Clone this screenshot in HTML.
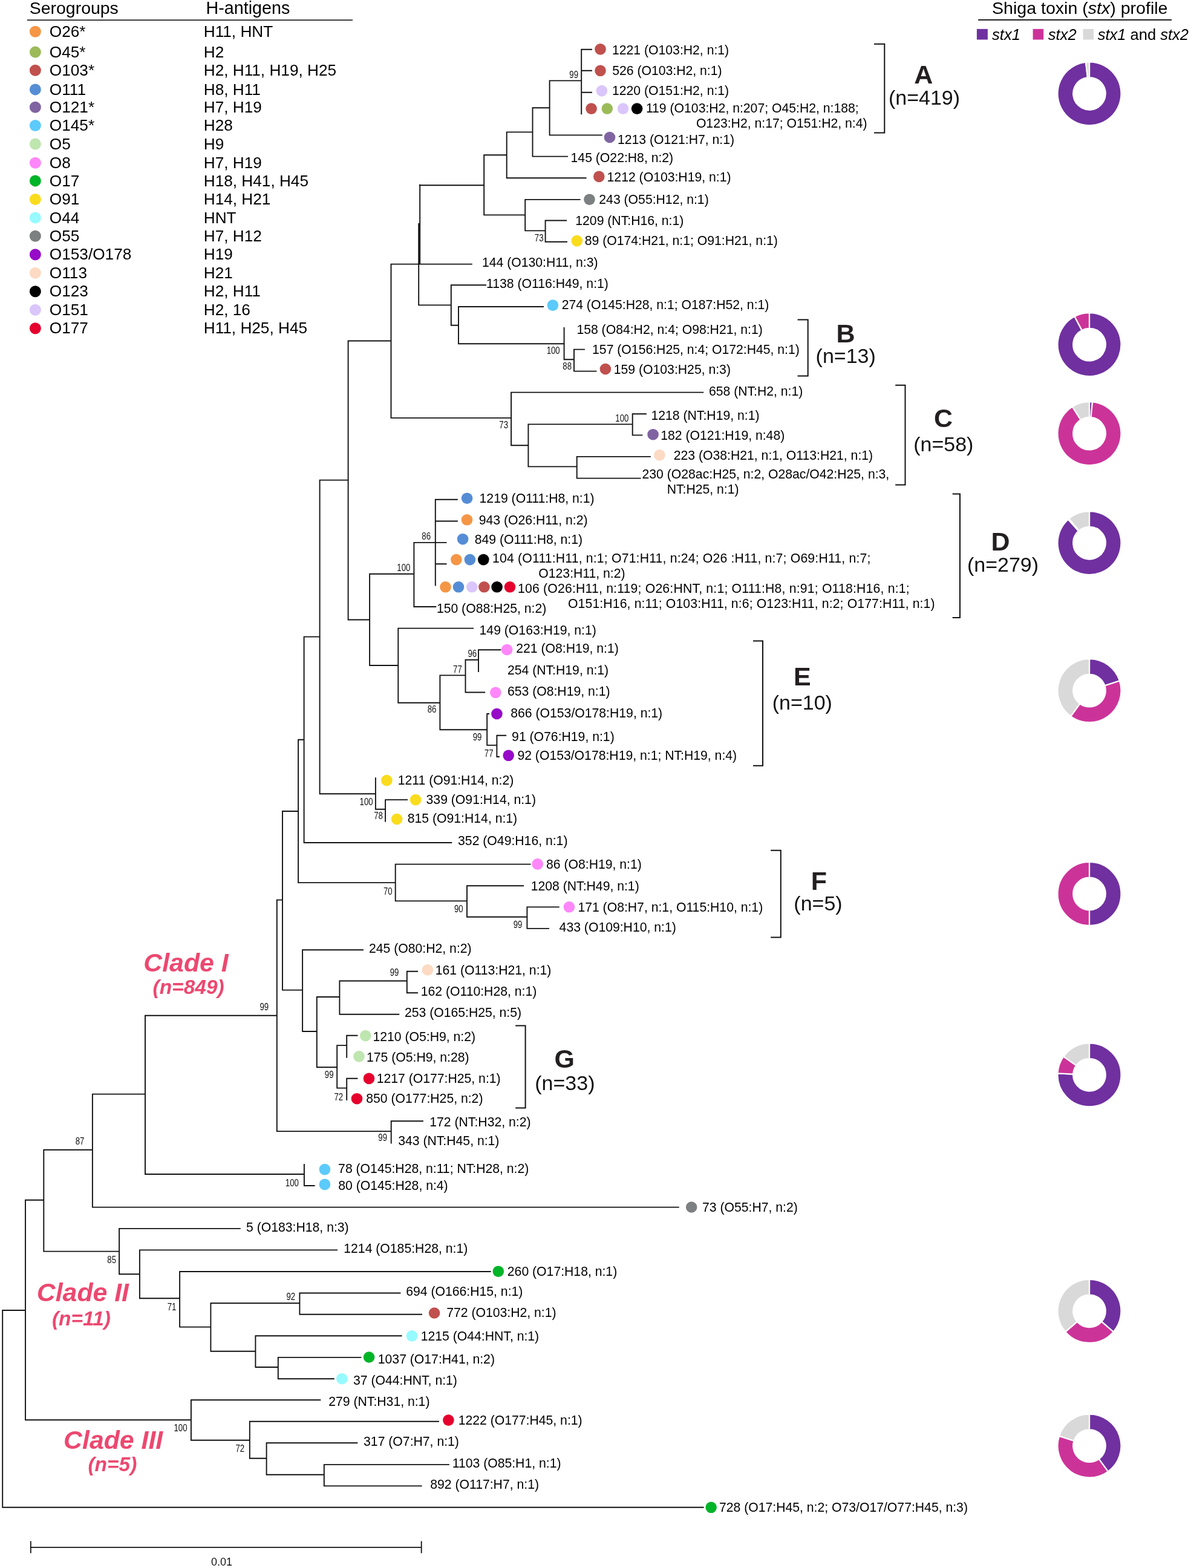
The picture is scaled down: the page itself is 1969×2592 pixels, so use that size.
<!DOCTYPE html>
<html><head><meta charset="utf-8"><title>Phylogenetic tree</title>
<style>html,body{margin:0;padding:0;background:#fff;}body{width:1969px;height:2592px;overflow:hidden;}svg{display:block;}</style>
</head><body>
<svg width="1969" height="2592" viewBox="0 0 1969 2592">
<rect width="100%" height="100%" fill="#fff"/>
<g stroke="#111" stroke-width="1.9" stroke-linecap="square" fill="none">
<path d="M961.2 81.6V188.4M961.2 81.8H978M961.2 116.8H978M961.2 152.7H978M908.6 133.4H961.2M908.6 133.4V223.2M908.6 223.4H994.8M880.5 178.2H908.6M880.5 178.2V258.6M880.5 258.6H938M837.7 218.4H880.5M837.7 218.4V294.3M837.7 294.3H968.6M800.2 256.25H837.7M800.2 256.25V355.4M693.75 306.25H800.2M800.2 355.4H868.2M868.2 329.9V381.4M868.2 329.9H958.6M868.2 381.4H901.6M901.6 364.5V399.8M901.6 364.5H936.2M901.6 399.8H937M694.2 305.8V436.6M692.2 370V504.4M692.2 370H694.2M646.5 436.6H779.8M692.2 504.4H745.8M745.8 471.3V537.8M745.8 471.3H803M745.8 537.8H758M758 507V568.2M758 507H898M758 568.2H932.6M932.6 542V594.3M932.6 594.3H949M949 577.6V613.6M949 577.6H966M949 613.6H985.5M646.5 436.6V690.9M575.6 563.5H646.5M646.5 690.9H845.1M845.1 648.6V736.3M845.1 648.6H1162.3M845.1 736.3H873.4M873.4 701.4V771.4M873.4 701.4H1045.7M1045.7 684.3V719.4M1045.7 684.3H1068M1045.7 719.4H1061.4M873.4 771.4H953.7M953.7 754.9V790.6M953.7 754.9H1074.9M953.7 790.6H1058.6M575.6 563.5V1024.5M528.6 793.6H575.6M528.6 793.6V1312.3M502.6 1052.6H528.6M575.6 1024.5H611.1M611.1 948.8V1100M611.1 948.8H684.4M684.4 896.9V1003M684.4 896.9H737.6M719.8 825.7V967.6M719.8 825.7H755.9M719.8 861.5H755.9M719.8 932.3H737.6M684.4 1003H720.3M611.1 1100H658.3M658.3 1038.6V1161.7M658.3 1038.6H782.1M658.3 1161.7H727.4M727.4 1116.4V1206.2M727.4 1116.4H769.5M769.5 1090.7V1144.5M769.5 1090.7H791M791 1074.3V1110M791 1074.3H827.4M769.5 1144.5H801.2M727.4 1206.2H805.2M805.2 1180V1231.9M805.2 1180H808M805.2 1231.9H821.4M821.4 1215.7V1251M821.4 1215.7H836.2M821.4 1251H825M528.6 1312.3H620.9M620.9 1286.3V1337.7M620.9 1337.7H637.1M637.1 1322.1V1357.7M637.1 1322.1H673.1M502.6 1052.6V1393M502.6 1393H746.3M493.1 1222.8H502.6M493.1 1222.8V1459.1M493.1 1459.1H653.7M653.7 1428.6V1489.4M653.7 1428.6H876.6M653.7 1489.4H772M772 1464.3V1515.7M772 1464.3H865.1M772 1515.7H871.4M871.4 1499.4V1534.9M871.4 1499.4H923.8M871.4 1534.9H907.1M467 1341H493.1M467 1341V1636.6M457.8 1487.6H467M457.8 1487.6V1870.1M467 1636.6H500.1M500.1 1570.2V1705M500.1 1570.2H600M500.1 1705H523.8M523.8 1648V1764.2M523.8 1648H561.4M561.4 1621.5V1676.8M561.4 1621.5H672.8M672.8 1605.7V1641.3M672.8 1605.7H690.1M672.8 1641.3H690.1M561.4 1676.8H659.3M523.8 1764.2H557.2M557.2 1728.1V1798.6M557.2 1728.1H573.2M573.2 1711.8V1747.7M573.2 1711.8H590.5M557.2 1798.6H573.2M573.2 1782.8V1818M573.2 1782.8H590.5M457.8 1870.1H646.7M646.7 1853.3V1889.5M646.7 1853.3H699M240 1678.8H457.8M240 1678.8V1941M240 1941H502.9M502.9 1925V1960M502.9 1960H519.6M152.9 1808.6H240M152.9 1808.6V1995.6M152.9 1995.6H1121.8M72.3 1900.8H152.9M72.3 1900.8V2068.6M42 1983.7H72.3M42 1983.7V2347.3M72.3 2068.6H197.1M197.1 2030.9V2106.3M197.1 2030.9H396.8M197.1 2106.3H230.9M230.9 2066.4V2146.3M230.9 2066.4H557.1M230.9 2146.3H297.1M297.1 2102V2193.6M297.1 2102H810.7M297.1 2193.6H348.4M348.4 2154.3V2233.7M348.4 2154.3H495.4M495.4 2137.5V2172.8M495.4 2137.5H661.5M495.4 2172.8H697M348.4 2233.7H422.4M422.4 2208.2V2260M422.4 2208.2H663.6M422.4 2260H459.8M459.8 2243.9V2279.3M459.8 2243.9H596.4M459.8 2279.3H551.8M4.2 2166H42M4.2 2166V2491.8M4.2 2491.8H1162.7M42 2347.3H315.9M315.9 2314.3V2380.7M315.9 2314.3H529.4M315.9 2380.7H412.8M412.8 2349.8V2410.7M412.8 2349.8H725M412.8 2410.7H440.6M440.6 2385.2V2437.7M440.6 2385.2H590.4M440.6 2437.7H535.8M535.8 2421.1V2456.4M535.8 2421.1H741.9M535.8 2456.4H696.7"/>
</g>
<g stroke="#111" stroke-width="2" fill="none">
<path d="M1445 72.8H1462.3V219.4H1445"/>
<path d="M1318.6 528.6H1335.7V621.4H1318.6"/>
<path d="M1480.2 636.8H1496.5V801.6H1480.2"/>
<path d="M1574.7 816.6H1587V1021H1574.7"/>
<path d="M1245 1059.6H1261V1265.7H1245"/>
<path d="M1274.2 1405.8H1290.8V1549.6H1274.2"/>
<path d="M852.2 1695.5H868.6V1831.6H852.2"/>
</g>
<g stroke="#111" stroke-width="1.8" fill="none"><path d="M50.8 2557.9H696.7M50.8 2547.5V2567.5M696.7 2547.5V2567.5"/></g>
<g>
<circle cx="992.5" cy="81.4" r="9.3" fill="#C0504D"/>
<circle cx="992.5" cy="116.8" r="9.3" fill="#C0504D"/>
<circle cx="994.9" cy="150.1" r="9.3" fill="#DAC6FA"/>
<circle cx="977.6" cy="179.6" r="9.3" fill="#C0504D"/>
<circle cx="1003.8" cy="179.6" r="9.3" fill="#9BBB59"/>
<circle cx="1030" cy="179.6" r="9.3" fill="#DAC6FA"/>
<circle cx="1053.1" cy="179.6" r="9.3" fill="#000000"/>
<circle cx="1008" cy="227" r="9.3" fill="#8064A2"/>
<circle cx="990.3" cy="291.9" r="9.3" fill="#C0504D"/>
<circle cx="974.5" cy="329.7" r="9.3" fill="#7D8080"/>
<circle cx="953.8" cy="398.1" r="9.3" fill="#FADC1E"/>
<circle cx="913.9" cy="504.6" r="9.3" fill="#5CCAFB"/>
<circle cx="1000.9" cy="610" r="9.3" fill="#C0504D"/>
<circle cx="1079.6" cy="718.2" r="9.3" fill="#8064A2"/>
<circle cx="1090.4" cy="752.4" r="9.3" fill="#FCDAC3"/>
<circle cx="772.1" cy="823.7" r="9.3" fill="#558DD5"/>
<circle cx="772" cy="859.3" r="9.3" fill="#F59646"/>
<circle cx="765.1" cy="891.2" r="9.3" fill="#558DD5"/>
<circle cx="754.4" cy="925.1" r="9.3" fill="#F59646"/>
<circle cx="776.9" cy="925.1" r="9.3" fill="#558DD5"/>
<circle cx="799.3" cy="925.1" r="9.3" fill="#000000"/>
<circle cx="736.5" cy="970.3" r="9.3" fill="#F59646"/>
<circle cx="758" cy="970.3" r="9.3" fill="#558DD5"/>
<circle cx="780.3" cy="970.3" r="9.3" fill="#DAC6FA"/>
<circle cx="800.4" cy="970.3" r="9.3" fill="#C0504D"/>
<circle cx="821.6" cy="970.3" r="9.3" fill="#000000"/>
<circle cx="843" cy="970.3" r="9.3" fill="#E6002D"/>
<circle cx="838.1" cy="1074" r="9.3" fill="#FF87FA"/>
<circle cx="819.3" cy="1144.8" r="9.3" fill="#FF87FA"/>
<circle cx="821.4" cy="1180" r="9.3" fill="#960AC8"/>
<circle cx="840.7" cy="1248.8" r="9.3" fill="#960AC8"/>
<circle cx="639.4" cy="1290" r="9.3" fill="#FADC1E"/>
<circle cx="687.1" cy="1322.1" r="9.3" fill="#FADC1E"/>
<circle cx="656.1" cy="1354" r="9.3" fill="#FADC1E"/>
<circle cx="888.7" cy="1428.4" r="9.3" fill="#FF87FA"/>
<circle cx="940.9" cy="1499.3" r="9.3" fill="#FF87FA"/>
<circle cx="707" cy="1603.3" r="9.3" fill="#FCDAC3"/>
<circle cx="604.3" cy="1712.1" r="9.3" fill="#BEE6AF"/>
<circle cx="593.5" cy="1746.4" r="9.3" fill="#BEE6AF"/>
<circle cx="610" cy="1782.9" r="9.3" fill="#E6002D"/>
<circle cx="590" cy="1816.2" r="9.3" fill="#E6002D"/>
<circle cx="536.9" cy="1933.1" r="9.3" fill="#5CCAFB"/>
<circle cx="536.9" cy="1957.9" r="9.3" fill="#5CCAFB"/>
<circle cx="1143.2" cy="1995.5" r="9.3" fill="#7D8080"/>
<circle cx="823.8" cy="2101.7" r="9.3" fill="#00B428"/>
<circle cx="718.1" cy="2170.5" r="9.3" fill="#C0504D"/>
<circle cx="681" cy="2208.3" r="9.3" fill="#96FAFF"/>
<circle cx="610.1" cy="2243.5" r="9.3" fill="#00B428"/>
<circle cx="565.4" cy="2279.2" r="9.3" fill="#96FAFF"/>
<circle cx="741.4" cy="2347.6" r="9.3" fill="#E6002D"/>
<circle cx="1175.7" cy="2491.8" r="9.3" fill="#00B428"/>
</g>
<g font-family="Liberation Sans, Arial, sans-serif" font-size="21.2" fill="#000">
<text x="1011.99" y="90.4">1221 (O103:H2, n:1)</text>
<text x="1012.15" y="124.3">526 (O103:H2, n:1)</text>
<text x="1011.99" y="157.4">1220 (O151:H2, n:1)</text>
<text x="1067.89" y="185.5">119 (O103:H2, n:207; O45:H2, n:188;</text>
<text x="1150.9" y="211">O123:H2, n:17; O151:H2, n:4)</text>
<text x="1020.89" y="238">1213 (O121:H7, n:1)</text>
<text x="943.59" y="268.4">145 (O22:H8, n:2)</text>
<text x="1003.59" y="299.8">1212 (O103:H19, n:1)</text>
<text x="990.34" y="337">243 (O55:H12, n:1)</text>
<text x="951.29" y="372.2">1209 (NT:H16, n:1)</text>
<text x="966.69" y="405.2">89 (O174:H21, n:1; O91:H21, n:1)</text>
<text x="796.99" y="441">144 (O130:H11, n:3)</text>
<text x="804.09" y="476.4">1138 (O116:H49, n:1)</text>
<text x="928.64" y="510.7">274 (O145:H28, n:1; O187:H52, n:1)</text>
<text x="953.39" y="552.1">158 (O84:H2, n:4; O98:H21, n:1)</text>
<text x="979.09" y="585">157 (O156:H25, n:4; O172:H45, n:1)</text>
<text x="1014.79" y="617.9">159 (O103:H25, n:3)</text>
<text x="1171.92" y="654.1">658 (NT:H2, n:1)</text>
<text x="1076.49" y="694.1">1218 (NT:H19, n:1)</text>
<text x="1092.29" y="727">182 (O121:H19, n:48)</text>
<text x="1113.74" y="759.9">223 (O38:H21, n:1, O113:H21, n:1)</text>
<text x="1061.54" y="790.7">230 (O28ac:H25, n:2, O28ac/O42:H25, n:3,</text>
<text x="1102.66" y="815.9">NT:H25, n:1)</text>
<text x="792.59" y="831">1219 (O111:H8, n:1)</text>
<text x="791.8" y="866.6">943 (O26:H11, n:2)</text>
<text x="784.79" y="899.1">849 (O111:H8, n:1)</text>
<text x="814.09" y="930" textLength="625.22" lengthAdjust="spacing">104 (O111:H11, n:1; O71:H11, n:24; O26 :H11, n:7; O69:H11, n:7;</text>
<text x="890.3" y="955.2">O123:H11, n:2)</text>
<text x="856.09" y="979.5" textLength="647.52" lengthAdjust="spacing">106 (O26:H11, n:119; O26:HNT, n:1; O111:H8, n:91; O118:H16, n:1;</text>
<text x="939" y="1005" textLength="606.58" lengthAdjust="spacing">O151:H16, n:11; O103:H11, n:6; O123:H11, n:2; O177:H11, n:1)</text>
<text x="721.89" y="1012.9">150 (O88:H25, n:2)</text>
<text x="792.59" y="1049.3">149 (O163:H19, n:1)</text>
<text x="853.24" y="1079">221 (O8:H19, n:1)</text>
<text x="838.94" y="1114.5">254 (NT:H19, n:1)</text>
<text x="838.92" y="1149.7">653 (O8:H19, n:1)</text>
<text x="844.29" y="1185.7">866 (O153/O178:H19, n:1)</text>
<text x="846.1" y="1225.2">91 (O76:H19, n:1)</text>
<text x="855.4" y="1255.7">92 (O153/O178:H19, n:1; NT:H19, n:4)</text>
<text x="657.69" y="1297.1">1211 (O91:H14, n:2)</text>
<text x="704.59" y="1329.3">339 (O91:H14, n:1)</text>
<text x="673.79" y="1360">815 (O91:H14, n:1)</text>
<text x="757.09" y="1397.1">352 (O49:H16, n:1)</text>
<text x="902.99" y="1435.7">86 (O8:H19, n:1)</text>
<text x="877.69" y="1471.6">1208 (NT:H49, n:1)</text>
<text x="955.39" y="1507">171 (O8:H7, n:1, O115:H10, n:1)</text>
<text x="924.61" y="1539.6">433 (O109:H10, n:1)</text>
<text x="610.04" y="1575.2">245 (O80:H2, n:2)</text>
<text x="719.79" y="1610.5">161 (O113:H21, n:1)</text>
<text x="695.69" y="1645.9">162 (O110:H28, n:1)</text>
<text x="668.94" y="1681.3">253 (O165:H25, n:5)</text>
<text x="616.49" y="1721.4">1210 (O5:H9, n:2)</text>
<text x="605.99" y="1755">175 (O5:H9, n:28)</text>
<text x="622.69" y="1790">1217 (O177:H25, n:1)</text>
<text x="605.29" y="1822.9">850 (O177:H25, n:2)</text>
<text x="710.29" y="1861.9">172 (NT:H32, n:2)</text>
<text x="658.19" y="1893.3">343 (NT:H45, n:1)</text>
<text x="559.12" y="1939.4">78 (O145:H28, n:11; NT:H28, n:2)</text>
<text x="559.29" y="1967.4">80 (O145:H28, n:4)</text>
<text x="1161.02" y="2002.9">73 (O55:H7, n:2)</text>
<text x="407.05" y="2036.2">5 (O183:H18, n:3)</text>
<text x="568.29" y="2071.4">1214 (O185:H28, n:1)</text>
<text x="838.84" y="2109.4">260 (O17:H18, n:1)</text>
<text x="671.22" y="2142.2">694 (O166:H15, n:1)</text>
<text x="738.22" y="2177.3">772 (O103:H2, n:1)</text>
<text x="695.69" y="2215.5">1215 (O44:HNT, n:1)</text>
<text x="624.79" y="2253.6">1037 (O17:H41, n:2)</text>
<text x="583.99" y="2289.3">37 (O44:HNT, n:1)</text>
<text x="543.24" y="2324.3">279 (NT:H31, n:1)</text>
<text x="757.69" y="2354.8">1222 (O177:H45, n:1)</text>
<text x="601.09" y="2390.3">317 (O7:H7, n:1)</text>
<text x="747.69" y="2425.7">1103 (O85:H1, n:1)</text>
<text x="711.19" y="2460.7">892 (O117:H7, n:1)</text>
<text x="1188.92" y="2498.9">728 (O17:H45, n:2; O73/O17/O77:H45, n:3)</text>
</g>
<g font-family="Liberation Sans, Arial, sans-serif" font-size="16.5" fill="#111" text-anchor="end">
<text transform="translate(956 129) scale(0.8 1)">99</text>
<text transform="translate(898.5 398.5) scale(0.8 1)">73</text>
<text transform="translate(925.7 584.8) scale(0.8 1)">100</text>
<text transform="translate(945 611.1) scale(0.8 1)">88</text>
<text transform="translate(840 708) scale(0.8 1)">73</text>
<text transform="translate(1039.4 696.6) scale(0.8 1)">100</text>
<text transform="translate(712 892.2) scale(0.8 1)">86</text>
<text transform="translate(678.4 944) scale(0.8 1)">100</text>
<text transform="translate(788.1 1085.5) scale(0.8 1)">96</text>
<text transform="translate(763.8 1111.7) scale(0.8 1)">77</text>
<text transform="translate(721.4 1177.6) scale(0.8 1)">86</text>
<text transform="translate(796.4 1224.3) scale(0.8 1)">99</text>
<text transform="translate(815.5 1251.4) scale(0.8 1)">77</text>
<text transform="translate(616.6 1330.6) scale(0.8 1)">100</text>
<text transform="translate(632.9 1354.3) scale(0.8 1)">78</text>
<text transform="translate(648.6 1478.6) scale(0.8 1)">70</text>
<text transform="translate(765.7 1508) scale(0.8 1)">90</text>
<text transform="translate(863.4 1533.7) scale(0.8 1)">99</text>
<text transform="translate(659.4 1612.6) scale(0.8 1)">99</text>
<text transform="translate(551.5 1781.5) scale(0.8 1)">99</text>
<text transform="translate(567.2 1818.9) scale(0.8 1)">72</text>
<text transform="translate(640 1886.4) scale(0.8 1)">99</text>
<text transform="translate(444.2 1669.5) scale(0.8 1)">99</text>
<text transform="translate(139.4 1892) scale(0.8 1)">87</text>
<text transform="translate(493.9 1960.7) scale(0.8 1)">100</text>
<text transform="translate(192 2088) scale(0.8 1)">85</text>
<text transform="translate(291.4 2165.7) scale(0.8 1)">71</text>
<text transform="translate(488.2 2148.9) scale(0.8 1)">92</text>
<text transform="translate(309.5 2365.7) scale(0.8 1)">100</text>
<text transform="translate(404.2 2400) scale(0.8 1)">72</text>
</g>
<text x="1526.7" y="138.3" font-family="Liberation Sans, Arial, sans-serif" font-weight="bold" font-size="43" text-anchor="middle" fill="#231F20">A</text>
<text x="1528" y="172.9" font-family="Liberation Sans, Arial, sans-serif" font-size="34" text-anchor="middle" fill="#111">(n=419)</text>
<text x="1398" y="566.1" font-family="Liberation Sans, Arial, sans-serif" font-weight="bold" font-size="43" text-anchor="middle" fill="#231F20">B</text>
<text x="1398.2" y="600" font-family="Liberation Sans, Arial, sans-serif" font-size="34" text-anchor="middle" fill="#111">(n=13)</text>
<text x="1559.5" y="706.4" font-family="Liberation Sans, Arial, sans-serif" font-weight="bold" font-size="43" text-anchor="middle" fill="#231F20">C</text>
<text x="1559.8" y="746.4" font-family="Liberation Sans, Arial, sans-serif" font-size="34" text-anchor="middle" fill="#111">(n=58)</text>
<text x="1654" y="909.6" font-family="Liberation Sans, Arial, sans-serif" font-weight="bold" font-size="43" text-anchor="middle" fill="#231F20">D</text>
<text x="1658" y="944.6" font-family="Liberation Sans, Arial, sans-serif" font-size="34" text-anchor="middle" fill="#111">(n=279)</text>
<text x="1326.3" y="1132.5" font-family="Liberation Sans, Arial, sans-serif" font-weight="bold" font-size="43" text-anchor="middle" fill="#231F20">E</text>
<text x="1326.3" y="1172.9" font-family="Liberation Sans, Arial, sans-serif" font-size="34" text-anchor="middle" fill="#111">(n=10)</text>
<text x="1354" y="1470.5" font-family="Liberation Sans, Arial, sans-serif" font-weight="bold" font-size="43" text-anchor="middle" fill="#231F20">F</text>
<text x="1352.5" y="1504.5" font-family="Liberation Sans, Arial, sans-serif" font-size="34" text-anchor="middle" fill="#111">(n=5)</text>
<text x="933.2" y="1765.1" font-family="Liberation Sans, Arial, sans-serif" font-weight="bold" font-size="43" text-anchor="middle" fill="#231F20">G</text>
<text x="933.9" y="1801.5" font-family="Liberation Sans, Arial, sans-serif" font-size="34" text-anchor="middle" fill="#111">(n=33)</text>
<text x="237.3" y="1606.3" font-family="Liberation Sans, Arial, sans-serif" font-weight="bold" font-style="italic" font-size="42.8" fill="#EC4870">Clade I</text>
<text x="252.49" y="1642.9" font-family="Liberation Sans, Arial, sans-serif" font-weight="bold" font-style="italic" font-size="33.5" fill="#EC4870">(n=849)</text>
<text x="60.8" y="2151.4" font-family="Liberation Sans, Arial, sans-serif" font-weight="bold" font-style="italic" font-size="42.8" fill="#EC4870">Clade II</text>
<text x="85.89" y="2191.4" font-family="Liberation Sans, Arial, sans-serif" font-weight="bold" font-style="italic" font-size="33.5" fill="#EC4870">(n=11)</text>
<text x="105.1" y="2394.9" font-family="Liberation Sans, Arial, sans-serif" font-weight="bold" font-style="italic" font-size="42.8" fill="#EC4870">Clade III</text>
<text x="145.39" y="2432.2" font-family="Liberation Sans, Arial, sans-serif" font-weight="bold" font-style="italic" font-size="33.5" fill="#EC4870">(n=5)</text>
<g stroke="#fff" stroke-width="2.2" stroke-linejoin="miter">
<path d="M1801.00 102.30A52.5 52.5 0 1 1 1795.06 102.64L1797.97 128.17A26.8 26.8 0 1 0 1801.00 128.00Z" fill="#7030A0" fill-rule="evenodd"/>
<path d="M1795.06 102.64A52.5 52.5 0 0 1 1801.00 102.30L1801.00 128.00A26.8 26.8 0 0 0 1797.97 128.17Z" fill="#D9D9D9" fill-rule="evenodd"/>
<path d="M1801.00 517.10A52.5 52.5 0 1 1 1776.60 523.12L1788.54 545.87A26.8 26.8 0 1 0 1801.00 542.80Z" fill="#7030A0" fill-rule="evenodd"/>
<path d="M1776.60 523.12A52.5 52.5 0 0 1 1801.00 517.10L1801.00 542.80A26.8 26.8 0 0 0 1788.54 545.87Z" fill="#CC3399" fill-rule="evenodd"/>
<path d="M1801.00 664.10A52.5 52.5 0 0 1 1806.03 664.34L1803.57 689.92A26.8 26.8 0 0 0 1801.00 689.80Z" fill="#7030A0" fill-rule="evenodd"/>
<path d="M1806.03 664.34A52.5 52.5 0 1 1 1772.87 672.27L1786.64 693.97A26.8 26.8 0 1 0 1803.57 689.92Z" fill="#CC3399" fill-rule="evenodd"/>
<path d="M1772.87 672.27A52.5 52.5 0 0 1 1801.00 664.10L1801.00 689.80A26.8 26.8 0 0 0 1786.64 693.97Z" fill="#D9D9D9" fill-rule="evenodd"/>
<path d="M1801.00 845.10A52.5 52.5 0 1 1 1765.87 858.58L1783.07 877.68A26.8 26.8 0 1 0 1801.00 870.80Z" fill="#7030A0" fill-rule="evenodd"/>
<path d="M1765.87 858.58A52.5 52.5 0 0 1 1767.25 857.38L1783.77 877.07A26.8 26.8 0 0 0 1783.07 877.68Z" fill="#CC3399" fill-rule="evenodd"/>
<path d="M1767.25 857.38A52.5 52.5 0 0 1 1801.00 845.10L1801.00 870.80A26.8 26.8 0 0 0 1783.77 877.07Z" fill="#D9D9D9" fill-rule="evenodd"/>
<path d="M1801.00 1089.20A52.5 52.5 0 0 1 1850.93 1125.48L1826.49 1133.42A26.8 26.8 0 0 0 1801.00 1114.90Z" fill="#7030A0" fill-rule="evenodd"/>
<path d="M1850.93 1125.48A52.5 52.5 0 0 1 1770.14 1184.17L1785.25 1163.38A26.8 26.8 0 0 0 1826.49 1133.42Z" fill="#CC3399" fill-rule="evenodd"/>
<path d="M1770.14 1184.17A52.5 52.5 0 0 1 1801.00 1089.20L1801.00 1114.90A26.8 26.8 0 0 0 1785.25 1163.38Z" fill="#D9D9D9" fill-rule="evenodd"/>
<path d="M1801.00 1425.00A52.5 52.5 0 0 1 1801.00 1530.00L1801.00 1504.30A26.8 26.8 0 0 0 1801.00 1450.70Z" fill="#7030A0" fill-rule="evenodd"/>
<path d="M1801.00 1530.00A52.5 52.5 0 0 1 1801.00 1425.00L1801.00 1450.70A26.8 26.8 0 0 0 1801.00 1504.30Z" fill="#CC3399" fill-rule="evenodd"/>
<path d="M1801.00 1724.40A52.5 52.5 0 1 1 1748.56 1774.43L1774.23 1775.64A26.8 26.8 0 1 0 1801.00 1750.10Z" fill="#7030A0" fill-rule="evenodd"/>
<path d="M1748.56 1774.43A52.5 52.5 0 0 1 1758.26 1746.41L1779.18 1761.34A26.8 26.8 0 0 0 1774.23 1775.64Z" fill="#CC3399" fill-rule="evenodd"/>
<path d="M1758.26 1746.41A52.5 52.5 0 0 1 1801.00 1724.40L1801.00 1750.10A26.8 26.8 0 0 0 1779.18 1761.34Z" fill="#D9D9D9" fill-rule="evenodd"/>
<path d="M1801.00 2114.80A52.5 52.5 0 0 1 1840.68 2201.67L1821.26 2184.85A26.8 26.8 0 0 0 1801.00 2140.50Z" fill="#7030A0" fill-rule="evenodd"/>
<path d="M1840.68 2201.67A52.5 52.5 0 0 1 1761.32 2201.67L1780.74 2184.85A26.8 26.8 0 0 0 1821.26 2184.85Z" fill="#CC3399" fill-rule="evenodd"/>
<path d="M1761.32 2201.67A52.5 52.5 0 0 1 1801.00 2114.80L1801.00 2140.50A26.8 26.8 0 0 0 1780.74 2184.85Z" fill="#D9D9D9" fill-rule="evenodd"/>
<path d="M1801.00 2337.60A52.5 52.5 0 0 1 1831.86 2432.57L1816.75 2411.78A26.8 26.8 0 0 0 1801.00 2363.30Z" fill="#7030A0" fill-rule="evenodd"/>
<path d="M1831.86 2432.57A52.5 52.5 0 0 1 1751.07 2373.88L1775.51 2381.82A26.8 26.8 0 0 0 1816.75 2411.78Z" fill="#CC3399" fill-rule="evenodd"/>
<path d="M1751.07 2373.88A52.5 52.5 0 0 1 1801.00 2337.60L1801.00 2363.30A26.8 26.8 0 0 0 1775.51 2381.82Z" fill="#D9D9D9" fill-rule="evenodd"/>
</g>
<g font-family="Liberation Sans, Arial, sans-serif" fill="#000">
<text x="48.81" y="23.2" font-size="28" textLength="147" lengthAdjust="spacingAndGlyphs">Serogroups</text>
<text x="340.55" y="23.2" font-size="28.7">H-antigens</text>
<path d="M44.8 33.2H583" stroke="#000" stroke-width="1.6"/>
<circle cx="58.35" cy="52.2" r="9.5" fill="#F59646"/>
<text x="81.87" y="60.8" font-size="26.2">O26*</text>
<text x="336.75" y="60.8" font-size="26.2">H11, HNT</text>
<circle cx="58.35" cy="86.1" r="9.5" fill="#9BBB59"/>
<text x="81.87" y="94.7" font-size="26.2">O45*</text>
<text x="336.75" y="94.7" font-size="26.2">H2</text>
<circle cx="58.35" cy="116.3" r="9.5" fill="#C0504D"/>
<text x="81.87" y="124.9" font-size="26.2">O103*</text>
<text x="336.75" y="124.9" font-size="26.2">H2, H11, H19, H25</text>
<circle cx="58.35" cy="147.9" r="9.5" fill="#558DD5"/>
<text x="81.87" y="156.5" font-size="26.2">O111</text>
<text x="336.75" y="156.5" font-size="26.2">H8, H11</text>
<circle cx="58.35" cy="177.3" r="9.5" fill="#8064A2"/>
<text x="81.87" y="185.9" font-size="26.2">O121*</text>
<text x="336.75" y="185.9" font-size="26.2">H7, H19</text>
<circle cx="58.35" cy="207.5" r="9.5" fill="#5CCAFB"/>
<text x="81.87" y="216.1" font-size="26.2">O145*</text>
<text x="336.75" y="216.1" font-size="26.2">H28</text>
<circle cx="58.35" cy="238" r="9.5" fill="#BEE6AF"/>
<text x="81.87" y="246.6" font-size="26.2">O5</text>
<text x="336.75" y="246.6" font-size="26.2">H9</text>
<circle cx="58.35" cy="269.2" r="9.5" fill="#FF87FA"/>
<text x="81.87" y="277.8" font-size="26.2">O8</text>
<text x="336.75" y="277.8" font-size="26.2">H7, H19</text>
<circle cx="58.35" cy="298.9" r="9.5" fill="#00B428"/>
<text x="81.87" y="307.5" font-size="26.2">O17</text>
<text x="336.75" y="307.5" font-size="26.2">H18, H41, H45</text>
<circle cx="58.35" cy="329.5" r="9.5" fill="#FADC1E"/>
<text x="81.87" y="338.1" font-size="26.2">O91</text>
<text x="336.75" y="338.1" font-size="26.2">H14, H21</text>
<circle cx="58.35" cy="359.9" r="9.5" fill="#96FAFF"/>
<text x="81.87" y="368.5" font-size="26.2">O44</text>
<text x="336.75" y="368.5" font-size="26.2">HNT</text>
<circle cx="58.35" cy="390.2" r="9.5" fill="#7D8080"/>
<text x="81.87" y="398.8" font-size="26.2">O55</text>
<text x="336.75" y="398.8" font-size="26.2">H7, H12</text>
<circle cx="58.35" cy="420.7" r="9.5" fill="#960AC8"/>
<text x="81.87" y="429.3" font-size="26.2">O153/O178</text>
<text x="336.75" y="429.3" font-size="26.2">H19</text>
<circle cx="58.35" cy="451.2" r="9.5" fill="#FCDAC3"/>
<text x="81.87" y="459.8" font-size="26.2">O113</text>
<text x="336.75" y="459.8" font-size="26.2">H21</text>
<circle cx="58.35" cy="481.7" r="9.5" fill="#000000"/>
<text x="81.87" y="490.3" font-size="26.2">O123</text>
<text x="336.75" y="490.3" font-size="26.2">H2, H11</text>
<circle cx="58.35" cy="512.2" r="9.5" fill="#DAC6FA"/>
<text x="81.87" y="520.8" font-size="26.2">O151</text>
<text x="336.75" y="520.8" font-size="26.2">H2, 16</text>
<circle cx="58.35" cy="542.7" r="9.5" fill="#E6002D"/>
<text x="81.87" y="551.3" font-size="26.2">O177</text>
<text x="336.75" y="551.3" font-size="26.2">H11, H25, H45</text>
</g>
<g font-family="Liberation Sans, Arial, sans-serif" fill="#000">
<text x="1640.01" y="23.1" font-size="28" textLength="290.5" lengthAdjust="spacingAndGlyphs">Shiga toxin (<tspan font-style="italic">stx</tspan>) profile</text>
<path d="M1617.1 32.9H1937.1" stroke="#000" stroke-width="1.6"/>
<rect x="1614.9" y="47.9" width="18" height="17.6" fill="#7030A0"/>
<rect x="1707.6" y="47.9" width="17.6" height="17.6" fill="#CC3399"/>
<rect x="1790.6" y="47.9" width="17.4" height="17.6" fill="#D9D9D9"/>
<text x="1640.12" y="65.5" font-size="25.5" font-style="italic">stx1</text>
<text x="1732.82" y="65.5" font-size="25.5" font-style="italic">stx2</text>
<text x="1814.72" y="65.5" font-size="25.5"><tspan font-style="italic">stx1</tspan> and <tspan font-style="italic">stx2</tspan></text>
</g>
<text x="348.9" y="2588.3" font-family="Liberation Sans, Arial, sans-serif" font-size="18" fill="#111">0.01</text>
</svg>
</body></html>
